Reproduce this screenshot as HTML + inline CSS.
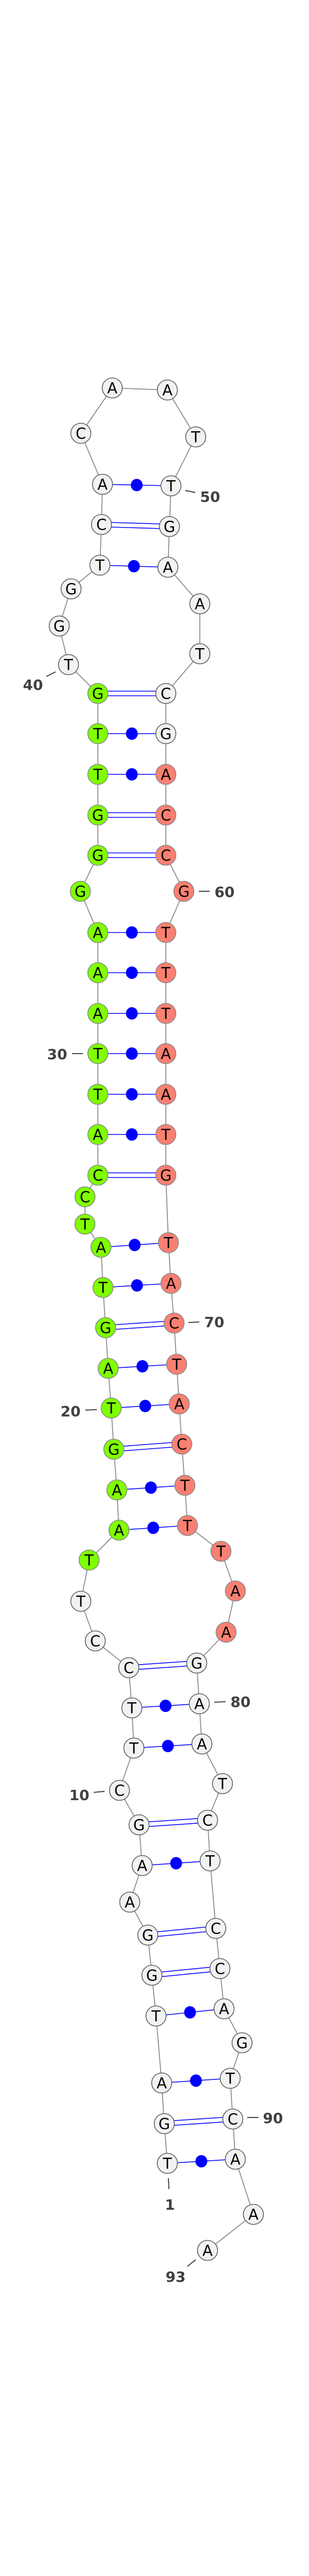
<!DOCTYPE html>
<html><head><meta charset="utf-8"><style>
html,body{margin:0;padding:0;background:#fff;width:600px;height:5140px;overflow:hidden;}
svg{display:block;position:absolute;left:0;top:0}
.n text{font-family:"DejaVu Sans","Liberation Sans",sans-serif;font-size:29px;text-anchor:middle;fill:#000}
.w{fill:#f2f2f2;stroke:#5f5f5f;stroke-width:1.6}
.g{fill:#7fff00;stroke:#888;stroke-width:1.6}
.s{fill:#fa8072;stroke:#888;stroke-width:1.6}
.p{stroke:#0000ff;stroke-width:1.6}
.d{fill:#0000ff}
.lb{font-family:"DejaVu Sans","Liberation Sans",sans-serif;font-size:28px;font-weight:bold;fill:#404040}
.tk{stroke:#404040;stroke-width:2}
</style></head><body>
<svg width="600" height="5140" viewBox="0 0 600 5140" xmlns="http://www.w3.org/2000/svg">
<polyline fill="none" stroke="#808080" stroke-width="1.6" points="325,4199 319,4122 314,4043 303,3913 295,3834 287,3756 252,3692 276,3621 270,3542 232,3475 260,3393 256,3315 250,3237 185,3185 157,3108 173,3028 231,2970 227,2892 221,2813 216,2733 210,2656 205,2577 200,2499 196,2421 165,2376 165,2323 190,2281 190,2202 190,2124 190,2045 190,1967 190,1888 190,1810 156,1730 190,1660 190,1582 190,1503 190,1424 190,1346 133,1290 115,1215 138,1143 194,1097 197,1018 199,940 157,841 218,753 325,757 380,848 332,943 329,1022 326,1101 388,1172 388,1269 322,1346 322,1424 322,1503 322,1582 322,1660 357,1730 322,1810 322,1888 322,1967 322,2045 322,2124 322,2202 322,2281 327,2412 332,2491 338,2568 343,2648 348,2725 353,2803 359,2883 364,2961 429,3011 457,3088 439,3168 382,3228 387,3307 392,3385 432,3462 403,3533 408,3612 419,3743 427,3821 435,3899 470,3965 447,4034 452,4113 457,4191 492,4298 403,4368"/>
<g class="p">
<line x1="325" y1="4199" x2="457" y2="4191"/>
<line x1="319" y1="4117.5" x2="452" y2="4108.5"/><line x1="319" y1="4126.5" x2="452" y2="4117.5"/>
<line x1="314" y1="4043" x2="447" y2="4034"/>
<line x1="303" y1="3913" x2="435" y2="3899"/>
<line x1="295" y1="3829.5" x2="427" y2="3816.5"/><line x1="295" y1="3838.5" x2="427" y2="3825.5"/>
<line x1="287" y1="3751.5" x2="419" y2="3738.5"/><line x1="287" y1="3760.5" x2="419" y2="3747.5"/>
<line x1="276" y1="3621" x2="408" y2="3612"/>
<line x1="270" y1="3537.5" x2="403" y2="3528.5"/><line x1="270" y1="3546.5" x2="403" y2="3537.5"/>
<line x1="260" y1="3393" x2="392" y2="3385"/>
<line x1="256" y1="3315" x2="387" y2="3307"/>
<line x1="250" y1="3232.5" x2="382" y2="3223.5"/><line x1="250" y1="3241.5" x2="382" y2="3232.5"/>
<line x1="231" y1="2970" x2="364" y2="2961"/>
<line x1="227" y1="2892" x2="359" y2="2883"/>
<line x1="221" y1="2808.5" x2="353" y2="2798.5"/><line x1="221" y1="2817.5" x2="353" y2="2807.5"/>
<line x1="216" y1="2733" x2="348" y2="2725"/>
<line x1="210" y1="2656" x2="343" y2="2648"/>
<line x1="205" y1="2572.5" x2="338" y2="2563.5"/><line x1="205" y1="2581.5" x2="338" y2="2572.5"/>
<line x1="200" y1="2499" x2="332" y2="2491"/>
<line x1="196" y1="2421" x2="327" y2="2412"/>
<line x1="190" y1="2276.5" x2="322" y2="2276.5"/><line x1="190" y1="2285.5" x2="322" y2="2285.5"/>
<line x1="190" y1="2202" x2="322" y2="2202"/>
<line x1="190" y1="2124" x2="322" y2="2124"/>
<line x1="190" y1="2045" x2="322" y2="2045"/>
<line x1="190" y1="1967" x2="322" y2="1967"/>
<line x1="190" y1="1888" x2="322" y2="1888"/>
<line x1="190" y1="1810" x2="322" y2="1810"/>
<line x1="190" y1="1655.5" x2="322" y2="1655.5"/><line x1="190" y1="1664.5" x2="322" y2="1664.5"/>
<line x1="190" y1="1577.5" x2="322" y2="1577.5"/><line x1="190" y1="1586.5" x2="322" y2="1586.5"/>
<line x1="190" y1="1503" x2="322" y2="1503"/>
<line x1="190" y1="1424" x2="322" y2="1424"/>
<line x1="190" y1="1341.5" x2="322" y2="1341.5"/><line x1="190" y1="1350.5" x2="322" y2="1350.5"/>
<line x1="194" y1="1097" x2="326" y2="1101"/>
<line x1="197" y1="1013.5" x2="329" y2="1017.5"/><line x1="197" y1="1022.5" x2="329" y2="1026.5"/>
<line x1="199" y1="940" x2="332" y2="943"/>
</g>
<g class="d">
<ellipse cx="391" cy="4195" rx="11.5" ry="12"/>
<ellipse cx="380.5" cy="4038.5" rx="11.5" ry="12"/>
<ellipse cx="369" cy="3906" rx="11.5" ry="12"/>
<ellipse cx="342" cy="3616.5" rx="11.5" ry="12"/>
<ellipse cx="326" cy="3389" rx="11.5" ry="12"/>
<ellipse cx="321.5" cy="3311" rx="11.5" ry="12"/>
<ellipse cx="297.5" cy="2965.5" rx="11.5" ry="12"/>
<ellipse cx="293" cy="2887.5" rx="11.5" ry="12"/>
<ellipse cx="282" cy="2729" rx="11.5" ry="12"/>
<ellipse cx="276.5" cy="2652" rx="11.5" ry="12"/>
<ellipse cx="266" cy="2495" rx="11.5" ry="12"/>
<ellipse cx="261.5" cy="2416.5" rx="11.5" ry="12"/>
<ellipse cx="256" cy="2202" rx="11.5" ry="12"/>
<ellipse cx="256" cy="2124" rx="11.5" ry="12"/>
<ellipse cx="256" cy="2045" rx="11.5" ry="12"/>
<ellipse cx="256" cy="1967" rx="11.5" ry="12"/>
<ellipse cx="256" cy="1888" rx="11.5" ry="12"/>
<ellipse cx="256" cy="1810" rx="11.5" ry="12"/>
<ellipse cx="256" cy="1503" rx="11.5" ry="12"/>
<ellipse cx="256" cy="1424" rx="11.5" ry="12"/>
<ellipse cx="260" cy="1099" rx="11.5" ry="12"/>
<ellipse cx="265.5" cy="941.5" rx="11.5" ry="12"/>
</g>
<g class="n">
<circle class="w" cx="325" cy="4199" r="19.5"/><text x="325" y="4209.5">T</text>
<circle class="w" cx="319" cy="4122" r="19.5"/><text x="319" y="4132.5">G</text>
<circle class="w" cx="314" cy="4043" r="19.5"/><text x="314" y="4053.5">A</text>
<circle class="w" cx="303" cy="3913" r="19.5"/><text x="303" y="3923.5">T</text>
<circle class="w" cx="295" cy="3834" r="19.5"/><text x="295" y="3844.5">G</text>
<circle class="w" cx="287" cy="3756" r="19.5"/><text x="287" y="3766.5">G</text>
<circle class="w" cx="252" cy="3692" r="19.5"/><text x="252" y="3702.5">A</text>
<circle class="w" cx="276" cy="3621" r="19.5"/><text x="276" y="3631.5">A</text>
<circle class="w" cx="270" cy="3542" r="19.5"/><text x="270" y="3552.5">G</text>
<circle class="w" cx="232" cy="3475" r="19.5"/><text x="232" y="3485.5">C</text>
<circle class="w" cx="260" cy="3393" r="19.5"/><text x="260" y="3403.5">T</text>
<circle class="w" cx="256" cy="3315" r="19.5"/><text x="256" y="3325.5">T</text>
<circle class="w" cx="250" cy="3237" r="19.5"/><text x="250" y="3247.5">C</text>
<circle class="w" cx="185" cy="3185" r="19.5"/><text x="185" y="3195.5">C</text>
<circle class="w" cx="157" cy="3108" r="19.5"/><text x="157" y="3118.5">T</text>
<circle class="g" cx="173" cy="3028" r="19.5"/><text x="173" y="3038.5">T</text>
<circle class="g" cx="231" cy="2970" r="19.5"/><text x="231" y="2980.5">A</text>
<circle class="g" cx="227" cy="2892" r="19.5"/><text x="227" y="2902.5">A</text>
<circle class="g" cx="221" cy="2813" r="19.5"/><text x="221" y="2823.5">G</text>
<circle class="g" cx="216" cy="2733" r="19.5"/><text x="216" y="2743.5">T</text>
<circle class="g" cx="210" cy="2656" r="19.5"/><text x="210" y="2666.5">A</text>
<circle class="g" cx="205" cy="2577" r="19.5"/><text x="205" y="2587.5">G</text>
<circle class="g" cx="200" cy="2499" r="19.5"/><text x="200" y="2509.5">T</text>
<circle class="g" cx="196" cy="2421" r="19.5"/><text x="196" y="2431.5">A</text>
<circle class="g" cx="165" cy="2376" r="19.5"/><text x="165" y="2386.5">T</text>
<circle class="g" cx="165" cy="2323" r="19.5"/><text x="165" y="2333.5">C</text>
<circle class="g" cx="190" cy="2281" r="19.5"/><text x="190" y="2291.5">C</text>
<circle class="g" cx="190" cy="2202" r="19.5"/><text x="190" y="2212.5">A</text>
<circle class="g" cx="190" cy="2124" r="19.5"/><text x="190" y="2134.5">T</text>
<circle class="g" cx="190" cy="2045" r="19.5"/><text x="190" y="2055.5">T</text>
<circle class="g" cx="190" cy="1967" r="19.5"/><text x="190" y="1977.5">A</text>
<circle class="g" cx="190" cy="1888" r="19.5"/><text x="190" y="1898.5">A</text>
<circle class="g" cx="190" cy="1810" r="19.5"/><text x="190" y="1820.5">A</text>
<circle class="g" cx="156" cy="1730" r="19.5"/><text x="156" y="1740.5">G</text>
<circle class="g" cx="190" cy="1660" r="19.5"/><text x="190" y="1670.5">G</text>
<circle class="g" cx="190" cy="1582" r="19.5"/><text x="190" y="1592.5">G</text>
<circle class="g" cx="190" cy="1503" r="19.5"/><text x="190" y="1513.5">T</text>
<circle class="g" cx="190" cy="1424" r="19.5"/><text x="190" y="1434.5">T</text>
<circle class="g" cx="190" cy="1346" r="19.5"/><text x="190" y="1356.5">G</text>
<circle class="w" cx="133" cy="1290" r="19.5"/><text x="133" y="1300.5">T</text>
<circle class="w" cx="115" cy="1215" r="19.5"/><text x="115" y="1225.5">G</text>
<circle class="w" cx="138" cy="1143" r="19.5"/><text x="138" y="1153.5">G</text>
<circle class="w" cx="194" cy="1097" r="19.5"/><text x="194" y="1107.5">T</text>
<circle class="w" cx="197" cy="1018" r="19.5"/><text x="197" y="1028.5">C</text>
<circle class="w" cx="199" cy="940" r="19.5"/><text x="199" y="950.5">A</text>
<circle class="w" cx="157" cy="841" r="19.5"/><text x="157" y="851.5">C</text>
<circle class="w" cx="218" cy="753" r="19.5"/><text x="218" y="763.5">A</text>
<circle class="w" cx="325" cy="757" r="19.5"/><text x="325" y="767.5">A</text>
<circle class="w" cx="380" cy="848" r="19.5"/><text x="380" y="858.5">T</text>
<circle class="w" cx="332" cy="943" r="19.5"/><text x="332" y="953.5">T</text>
<circle class="w" cx="329" cy="1022" r="19.5"/><text x="329" y="1032.5">G</text>
<circle class="w" cx="326" cy="1101" r="19.5"/><text x="326" y="1111.5">A</text>
<circle class="w" cx="388" cy="1172" r="19.5"/><text x="388" y="1182.5">A</text>
<circle class="w" cx="388" cy="1269" r="19.5"/><text x="388" y="1279.5">T</text>
<circle class="w" cx="322" cy="1346" r="19.5"/><text x="322" y="1356.5">C</text>
<circle class="w" cx="322" cy="1424" r="19.5"/><text x="322" y="1434.5">G</text>
<circle class="s" cx="322" cy="1503" r="19.5"/><text x="322" y="1513.5">A</text>
<circle class="s" cx="322" cy="1582" r="19.5"/><text x="322" y="1592.5">C</text>
<circle class="s" cx="322" cy="1660" r="19.5"/><text x="322" y="1670.5">C</text>
<circle class="s" cx="357" cy="1730" r="19.5"/><text x="357" y="1740.5">G</text>
<circle class="s" cx="322" cy="1810" r="19.5"/><text x="322" y="1820.5">T</text>
<circle class="s" cx="322" cy="1888" r="19.5"/><text x="322" y="1898.5">T</text>
<circle class="s" cx="322" cy="1967" r="19.5"/><text x="322" y="1977.5">T</text>
<circle class="s" cx="322" cy="2045" r="19.5"/><text x="322" y="2055.5">A</text>
<circle class="s" cx="322" cy="2124" r="19.5"/><text x="322" y="2134.5">A</text>
<circle class="s" cx="322" cy="2202" r="19.5"/><text x="322" y="2212.5">T</text>
<circle class="s" cx="322" cy="2281" r="19.5"/><text x="322" y="2291.5">G</text>
<circle class="s" cx="327" cy="2412" r="19.5"/><text x="327" y="2422.5">T</text>
<circle class="s" cx="332" cy="2491" r="19.5"/><text x="332" y="2501.5">A</text>
<circle class="s" cx="338" cy="2568" r="19.5"/><text x="338" y="2578.5">C</text>
<circle class="s" cx="343" cy="2648" r="19.5"/><text x="343" y="2658.5">T</text>
<circle class="s" cx="348" cy="2725" r="19.5"/><text x="348" y="2735.5">A</text>
<circle class="s" cx="353" cy="2803" r="19.5"/><text x="353" y="2813.5">C</text>
<circle class="s" cx="359" cy="2883" r="19.5"/><text x="359" y="2893.5">T</text>
<circle class="s" cx="364" cy="2961" r="19.5"/><text x="364" y="2971.5">T</text>
<circle class="s" cx="429" cy="3011" r="19.5"/><text x="429" y="3021.5">T</text>
<circle class="s" cx="457" cy="3088" r="19.5"/><text x="457" y="3098.5">A</text>
<circle class="s" cx="439" cy="3168" r="19.5"/><text x="439" y="3178.5">A</text>
<circle class="w" cx="382" cy="3228" r="19.5"/><text x="382" y="3238.5">G</text>
<circle class="w" cx="387" cy="3307" r="19.5"/><text x="387" y="3317.5">A</text>
<circle class="w" cx="392" cy="3385" r="19.5"/><text x="392" y="3395.5">A</text>
<circle class="w" cx="432" cy="3462" r="19.5"/><text x="432" y="3472.5">T</text>
<circle class="w" cx="403" cy="3533" r="19.5"/><text x="403" y="3543.5">C</text>
<circle class="w" cx="408" cy="3612" r="19.5"/><text x="408" y="3622.5">T</text>
<circle class="w" cx="419" cy="3743" r="19.5"/><text x="419" y="3753.5">C</text>
<circle class="w" cx="427" cy="3821" r="19.5"/><text x="427" y="3831.5">C</text>
<circle class="w" cx="435" cy="3899" r="19.5"/><text x="435" y="3909.5">A</text>
<circle class="w" cx="470" cy="3965" r="19.5"/><text x="470" y="3975.5">G</text>
<circle class="w" cx="447" cy="4034" r="19.5"/><text x="447" y="4044.5">T</text>
<circle class="w" cx="452" cy="4113" r="19.5"/><text x="452" y="4123.5">C</text>
<circle class="w" cx="457" cy="4191" r="19.5"/><text x="457" y="4201.5">A</text>
<circle class="w" cx="492" cy="4298" r="19.5"/><text x="492" y="4308.5">A</text>
<circle class="w" cx="403" cy="4368" r="19.5"/><text x="403" y="4378.5">A</text>
</g>
<g class="tk">
<line x1="360" y1="952" x2="379" y2="956"/>
<line x1="90" y1="1313" x2="108" y2="1304"/>
<line x1="386" y1="1730" x2="407" y2="1730"/>
<line x1="140" y1="2045" x2="161" y2="2045"/>
<line x1="366" y1="2567" x2="387" y2="2566"/>
<line x1="166" y1="2737" x2="188" y2="2736"/>
<line x1="416" y1="3304" x2="438" y2="3303"/>
<line x1="182" y1="3479" x2="203" y2="3477"/>
<line x1="480" y1="4110" x2="502" y2="4110"/>
<line x1="327" y1="4228" x2="328" y2="4249"/>
<line x1="364" y1="4399" x2="380" y2="4386"/>
</g>
<g class="lb">
<text x="408" y="974" text-anchor="middle">50</text>
<text x="64" y="1339" text-anchor="middle">40</text>
<text x="436" y="1741" text-anchor="middle">60</text>
<text x="111" y="2056" text-anchor="middle">30</text>
<text x="416" y="2576" text-anchor="middle">70</text>
<text x="137" y="2749" text-anchor="middle">20</text>
<text x="467" y="3313" text-anchor="middle">80</text>
<text x="154" y="3494" text-anchor="middle">10</text>
<text x="530" y="4121" text-anchor="middle">90</text>
<text x="330" y="4289" text-anchor="middle">1</text>
<text x="341" y="4429" text-anchor="middle">93</text>
</g>
<text x="300" y="5134" text-anchor="middle" style="font-family:'DejaVu Sans','Liberation Sans',sans-serif;font-size:11px;font-weight:bold;fill:#000">der_23_annot [-29.8]</text>
</svg>
</body></html>
